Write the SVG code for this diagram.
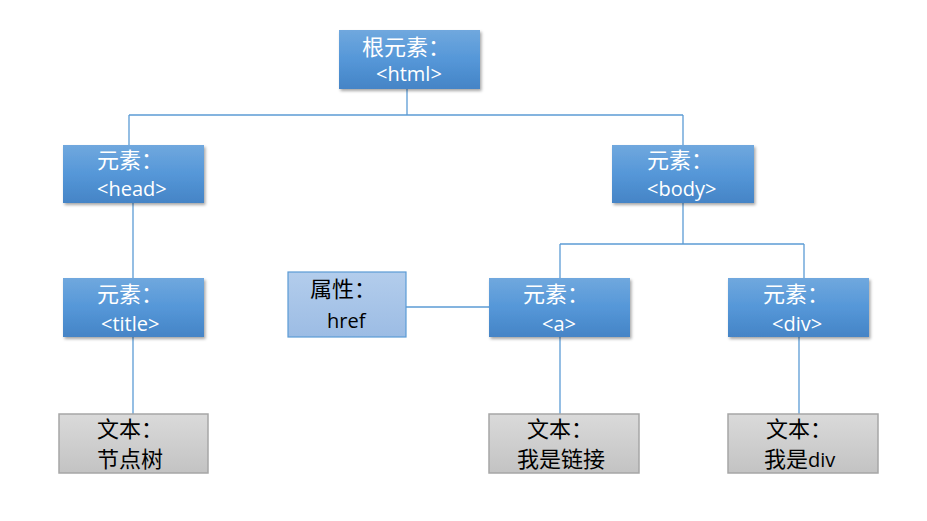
<svg xmlns="http://www.w3.org/2000/svg" width="927" height="521" viewBox="0 0 927 521">
<defs>
<linearGradient id="gBlue" x1="0" y1="0" x2="0" y2="1">
<stop offset="0" stop-color="#70a8de"/>
<stop offset="0.5" stop-color="#5597d8"/>
<stop offset="1" stop-color="#4584c6"/>
</linearGradient>
<linearGradient id="gLight" x1="0" y1="0" x2="0" y2="1">
<stop offset="0" stop-color="#b3cdec"/>
<stop offset="1" stop-color="#9cbce4"/>
</linearGradient>
<linearGradient id="gGray" x1="0" y1="0" x2="0" y2="1">
<stop offset="0" stop-color="#dadada"/>
<stop offset="1" stop-color="#c3c3c3"/>
</linearGradient>
<filter id="sh" x="-10%" y="-10%" width="125%" height="130%">
<feDropShadow dx="1.5" dy="2" stdDeviation="1.5" flood-color="#000" flood-opacity="0.35"/>
</filter>
</defs>
<style>
.blue{fill:url(#gBlue);filter:url(#sh);}
.light{fill:url(#gLight);stroke:#5b9bd5;stroke-width:1.2;}
.gray{fill:url(#gGray);stroke:#a6a6a6;stroke-width:1.5;}
.wt{fill:#ffffff;font-family:"Open Sans","Noto Sans CJK SC",sans-serif;font-size:20px;}
.bt{fill:#000000;font-family:"Open Sans","Noto Sans CJK SC",sans-serif;font-size:20px;}
.cj{font-size:22px;}
.conn line{stroke:#5b9bd5;stroke-width:1.3;fill:none;}
</style>
<rect width="927" height="521" fill="#ffffff"/>
<g id="connectors" class="conn">
<line x1="407" y1="89" x2="407" y2="115"/>
<line x1="129" y1="115" x2="683" y2="115"/>
<line x1="129" y1="115" x2="129" y2="145"/>
<line x1="683" y1="115" x2="683" y2="145"/>
<line x1="133" y1="203" x2="133" y2="278"/>
<line x1="133" y1="337" x2="133" y2="414"/>
<line x1="683" y1="203" x2="683" y2="244"/>
<line x1="560" y1="244" x2="804" y2="244"/>
<line x1="560" y1="244" x2="560" y2="278"/>
<line x1="804" y1="244" x2="804" y2="278"/>
<line x1="406" y1="307" x2="489" y2="307"/>
<line x1="560" y1="337" x2="560" y2="414"/>
<line x1="799" y1="337" x2="799" y2="414"/>
</g>
<g id="node-html">
<rect class="blue" x="339" y="30" width="141" height="59"/>
<text class="wt cj" x="362" y="55">根元素：</text>
<text class="wt" x="376" y="81">&lt;html&gt;</text>
</g>
<g id="node-head">
<rect class="blue" x="63" y="145" width="141" height="58"/>
<text class="wt cj" x="97" y="168">元素：</text>
<text class="wt" x="97" y="196">&lt;head&gt;</text>
</g>
<g id="node-body">
<rect class="blue" x="612" y="145" width="142" height="58"/>
<text class="wt cj" x="647" y="168">元素：</text>
<text class="wt" x="647" y="196">&lt;body&gt;</text>
</g>
<g id="node-title">
<rect class="blue" x="63" y="278" width="141" height="59"/>
<text class="wt cj" x="97" y="302">元素：</text>
<text class="wt" x="101" y="331">&lt;title&gt;</text>
</g>
<g id="node-href">
<rect class="light" x="288" y="272" width="118" height="65"/>
<text class="bt cj" x="310" y="297">属性：</text>
<text class="bt" x="327" y="328">href</text>
</g>
<g id="node-a">
<rect class="blue" x="489" y="278" width="141" height="59"/>
<text class="wt cj" x="523" y="302">元素：</text>
<text class="wt" x="542" y="331">&lt;a&gt;</text>
</g>
<g id="node-div">
<rect class="blue" x="728" y="278" width="141" height="59"/>
<text class="wt cj" x="763" y="302">元素：</text>
<text class="wt" x="772" y="331">&lt;div&gt;</text>
</g>
<g id="text-tree">
<rect class="gray" x="59" y="414" width="149" height="59"/>
<text class="bt cj" x="97" y="437">文本：</text>
<text class="bt cj" x="97" y="467">节点树</text>
</g>
<g id="text-link">
<rect class="gray" x="489" y="414" width="150" height="59"/>
<text class="bt cj" x="527" y="437">文本：</text>
<text class="bt cj" x="517" y="467">我是链接</text>
</g>
<g id="text-div">
<rect class="gray" x="728" y="414" width="150" height="59"/>
<text class="bt cj" x="766" y="437">文本：</text>
<text class="bt cj" x="764" y="467">我是<tspan font-size="20">div</tspan></text>
</g>
</svg>
